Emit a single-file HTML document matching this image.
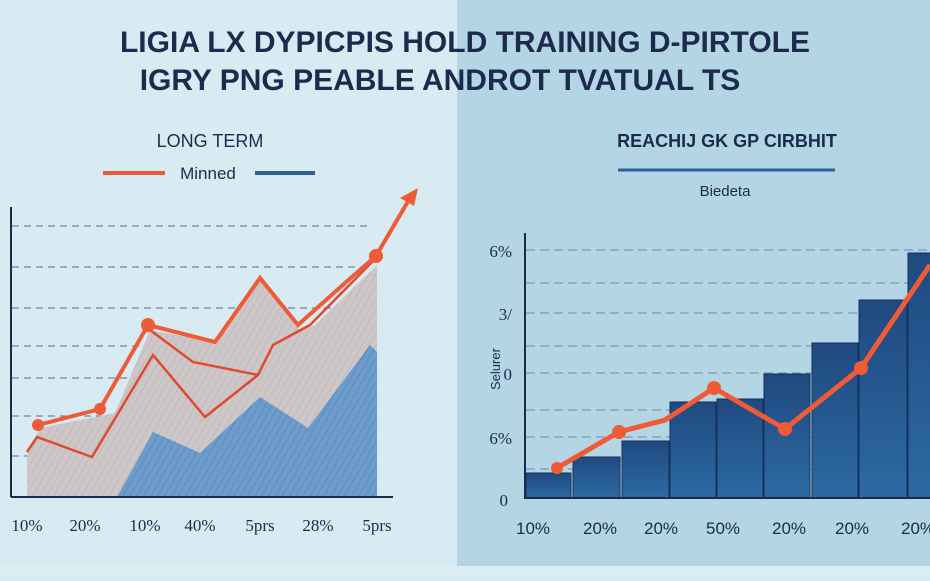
<!DOCTYPE html>
<html><head><meta charset="utf-8"><style>
html,body{margin:0;padding:0}
body{width:930px;height:576px;overflow:hidden;background:#d6eaf1;font-family:"Liberation Sans",sans-serif}
</style></head><body>
<svg width="930" height="576" viewBox="0 0 930 576" xmlns="http://www.w3.org/2000/svg">
<defs>
<pattern id="hg" width="6" height="6" patternUnits="userSpaceOnUse" patternTransform="rotate(30)"><rect width="6" height="6" fill="#cfc6c6"/><line x1="0" y1="0" x2="0" y2="6" stroke="#b9bcc8" stroke-width="2"/></pattern>
<pattern id="hb" width="6" height="6" patternUnits="userSpaceOnUse" patternTransform="rotate(30)"><rect width="6" height="6" fill="#6d9ccb"/><line x1="0" y1="0" x2="0" y2="6" stroke="#5a8bbf" stroke-width="2"/></pattern>
<linearGradient id="bar" x1="0" y1="0" x2="0" y2="1"><stop offset="0" stop-color="#1f4a80"/><stop offset="1" stop-color="#2d6aa3"/></linearGradient>
</defs>
<rect x="0" y="0" width="457" height="576" fill="#d8ebf2"/>
<rect x="457" y="0" width="473" height="576" fill="#b3d5e4"/>
<rect x="0" y="566" width="930" height="10" fill="#dceef4"/>
<g font-family="Liberation Sans,sans-serif" font-weight="bold" fill="#1d2a4e" font-size="30" text-anchor="middle">
<text x="465" y="52">LIGIA LX DYPICPIS HOLD TRAINING D-PIRTOLE</text>
<text x="440" y="90">IGRY PNG PEABLE ANDROT TVATUAL TS</text>
</g>
<text x="210" y="147" font-size="18" fill="#1d2a4e" text-anchor="middle">LONG TERM</text>
<line x1="103" y1="173" x2="165" y2="173" stroke="#ea5a3a" stroke-width="4"/>
<text x="208" y="179" font-size="17" fill="#1d2a4e" text-anchor="middle">Minned</text>
<line x1="255" y1="173" x2="315" y2="173" stroke="#2f5f97" stroke-width="4"/>
<text x="727" y="147" font-size="18" fill="#1d2a4e" text-anchor="middle" font-weight="bold">REACHIJ GK GP CIRBHIT</text>
<line x1="618" y1="170" x2="835" y2="170" stroke="#2f5f97" stroke-width="3"/>
<text x="725" y="196" font-size="15" fill="#1d2a4e" text-anchor="middle">Biedeta</text>
<!-- left chart -->
<g stroke="#4f6d8f" stroke-width="1" stroke-dasharray="7,5">
<line x1="12" y1="226" x2="372" y2="226"/><line x1="12" y1="267" x2="372" y2="267"/><line x1="12" y1="308" x2="372" y2="308"/><line x1="12" y1="346" x2="372" y2="346"/><line x1="12" y1="378" x2="372" y2="378"/><line x1="12" y1="416" x2="372" y2="416"/><line x1="12" y1="456" x2="372" y2="456"/>
</g>
<polygon points="27,497 27,455 40,428 115,413 150,330 215,342 260,278 300,330 315,325 377,265 377,497" fill="url(#hg)"/>
<polygon points="117,497 153,432 200,453 260,397 308,428 370,345 377,352 377,497" fill="url(#hb)"/>
<line x1="11" y1="207" x2="11" y2="497" stroke="#1d2a4e" stroke-width="2"/>
<line x1="11" y1="497" x2="393" y2="497" stroke="#1d2a4e" stroke-width="2"/>
<polyline points="27,452 37,437 92,457 153,355 205,417 258,375 273,345 310,325 376,258" fill="none" stroke="#e04a2c" stroke-width="2.5"/>
<polyline points="150,330 193,362 258,375" fill="none" stroke="#e04a2c" stroke-width="2.5"/>
<polyline points="38,425 100,409 148,325 215,342 260,278 298,325 345,283 376,256 410,198" fill="none" stroke="#ee5b36" stroke-width="4"/>
<polygon points="418,188 400,198 414,206" fill="#ee5b36"/>
<g fill="#ee5b36"><circle cx="38" cy="425" r="6"/><circle cx="100" cy="409" r="6"/><circle cx="148" cy="325" r="7"/><circle cx="376" cy="256" r="7"/></g>
<g font-family="Liberation Serif,serif" font-size="17" fill="#1d2a4e" text-anchor="middle">
<text x="27" y="531">10%</text><text x="85" y="531">20%</text><text x="145" y="531">10%</text><text x="200" y="531">40%</text><text x="260" y="531">5prs</text><text x="318" y="531">28%</text><text x="377" y="531">5prs</text>
</g>
<!-- right chart -->
<g stroke="#6d8cac" stroke-width="1" stroke-dasharray="9,5">
<line x1="526" y1="250" x2="930" y2="250"/><line x1="526" y1="283" x2="930" y2="283"/><line x1="526" y1="313" x2="930" y2="313"/><line x1="526" y1="346" x2="930" y2="346"/><line x1="526" y1="373" x2="930" y2="373"/><line x1="526" y1="410" x2="930" y2="410"/><line x1="526" y1="437" x2="930" y2="437"/><line x1="526" y1="469" x2="930" y2="469"/>
</g>
<g fill="url(#bar)" stroke="#15305a" stroke-width="1">
<rect x="526" y="473" width="45" height="25"/><rect x="573" y="457" width="47" height="41"/><rect x="622" y="441" width="47" height="57"/><rect x="670" y="402" width="46" height="96"/><rect x="717" y="399" width="46" height="99"/><rect x="764" y="374" width="46" height="124"/><rect x="812" y="343" width="46" height="155"/><rect x="859" y="300" width="48" height="198"/><rect x="908" y="253" width="24" height="245"/>
</g>
<line x1="525" y1="233" x2="525" y2="499" stroke="#1d2a4e" stroke-width="2"/>
<line x1="525" y1="498" x2="930" y2="498" stroke="#1d2a4e" stroke-width="2"/>
<polyline points="557,468 619,432 665,420 714,388 785,429 861,368 930,265" fill="none" stroke="#f05a36" stroke-width="5"/>
<g fill="#f05a36"><circle cx="557" cy="468" r="6"/><circle cx="619" cy="432" r="7"/><circle cx="714" cy="388" r="7"/><circle cx="785" cy="429" r="7"/><circle cx="861" cy="368" r="7"/></g>
<g font-family="Liberation Serif,serif" font-size="17" fill="#1d2a4e" text-anchor="end">
<text x="512" y="257">6%</text><text x="512" y="320">3/</text><text x="512" y="380">0</text><text x="512" y="444">6%</text><text x="508" y="506">0</text>
</g>
<text x="0" y="0" font-size="13" fill="#1d2a4e" transform="translate(500,390) rotate(-90)">Selurer</text>
<g font-family="Liberation Sans,sans-serif" font-size="17" fill="#1d2a4e" text-anchor="middle">
<text x="533" y="534">10%</text><text x="600" y="534">20%</text><text x="661" y="534">20%</text><text x="723" y="534">50%</text><text x="789" y="534">20%</text><text x="852" y="534">20%</text><text x="918" y="534">20%</text>
</g>
</svg>
</body></html>
